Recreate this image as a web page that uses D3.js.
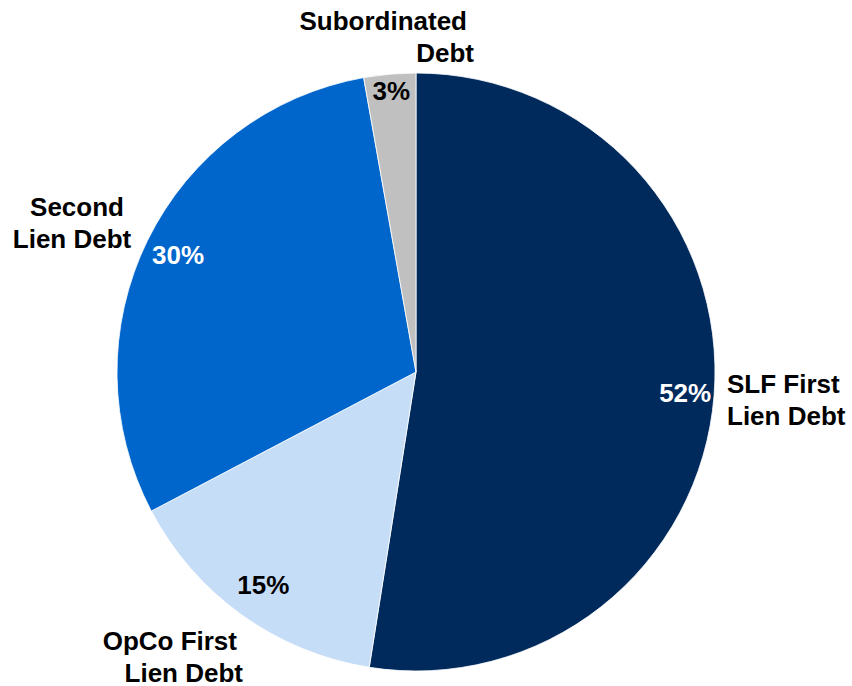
<!DOCTYPE html>
<html>
<head>
<meta charset="utf-8">
<script src="https://cdn.jsdelivr.net/npm/d3@7"></script>
<style>
  body { margin: 0; background: #fff; }
  text { font-family: "Liberation Sans", Arial, sans-serif; font-weight: bold; font-size: 26px; }
</style>
</head>
<body>
<div id="chart"></div>
<script>
// slices, clockwise from 12 o'clock
var categories = ["SLF First Lien Debt", "OpCo First Lien Debt", "Second Lien Debt", "Subordinated Debt"];
var values = [52.5, 14.8, 29.9, 2.8];
var pctLabels = ["52%", "15%", "30%", "3%"];
var colors = ["#002a5c", "#c6ddf7", "#0066cc", "#c0c0c0"];

var width = 852, height = 686;
var cx = 416, cy = 372, radius = 299;

var svg = d3.select("#chart").append("svg")
    .attr("width", width).attr("height", height);

var g = svg.append("g").attr("transform", "translate(" + cx + "," + cy + ")");

var pie = d3.pie().sort(null).value(function(d) { return d; });
var arcs = pie(values);

var arc = d3.arc().innerRadius(0).outerRadius(radius);

g.selectAll("path.slice").data(arcs).enter().append("path")
    .attr("class", "slice")
    .attr("d", arc)
    .attr("fill", function(d, i) { return colors[i]; })
    .attr("stroke", "#fff")
    .attr("stroke-width", 0.8);

// percentage labels inside slices
var labelR = [270, 262, 265, 282];
var pctColor = ["#fff", "#000", "#fff", "#000"];
g.selectAll("text.pct").data(arcs).enter().append("text")
    .attr("class", "pct")
    .attr("text-anchor", "middle")
    .attr("fill", function(d, i) { return pctColor[i]; })
    .attr("transform", function(d, i) {
        var a = (d.startAngle + d.endAngle) / 2;
        var x = labelR[i] * Math.sin(a), y = -labelR[i] * Math.cos(a);
        return "translate(" + x + "," + (y + 9) + ")";
    })
    .text(function(d, i) { return pctLabels[i]; });

// category labels outside (two lines each)
var catLines = [["SLF First", "Lien Debt"], ["OpCo First", "Lien Debt"], ["Second", "Lien Debt"], ["Subordinated", "Debt"]];
var catPos = [
    { x: 311, y: 21, anchor: "start", dx: [0, 0] },
    { x: -179, y: 278, anchor: "end", dx: [0, 6] },
    { x: -339, y: -156, anchor: "middle", dx: [0, -5] },
    { x: 51, y: -342, anchor: "end", dx: [0, 7] }
];
catLines.forEach(function(lines, i) {
    var p = catPos[i];
    var t = g.append("text")
        .attr("text-anchor", p.anchor)
        .attr("fill", "#000")
        .attr("x", p.x).attr("y", p.y);
    lines.forEach(function(l, j) {
        t.append("tspan")
            .attr("x", p.x + p.dx[j])
            .attr("y", p.y + j * 31.5)
            .text(l);
    });
});
</script>
</body>
</html>
